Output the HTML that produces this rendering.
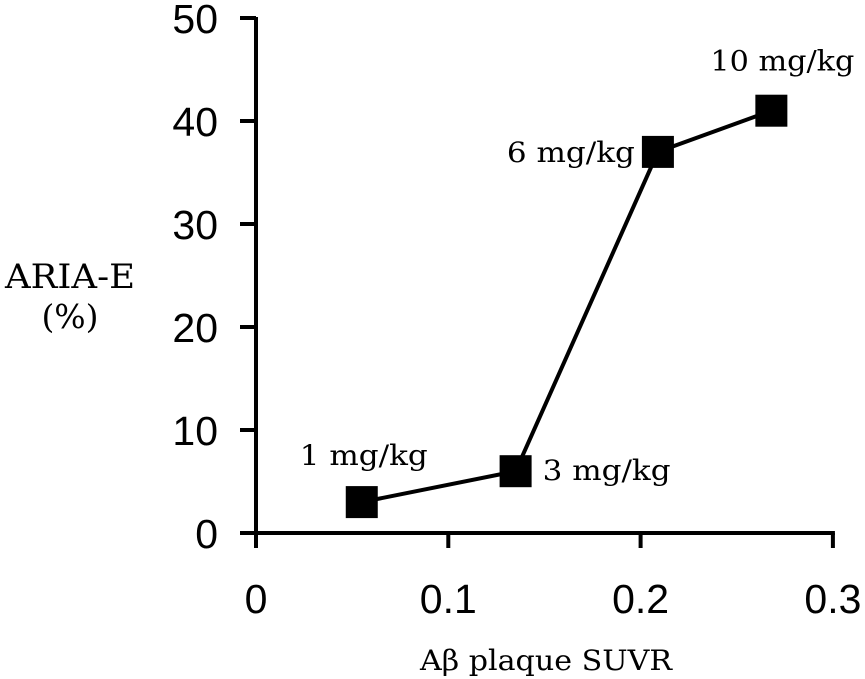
<!DOCTYPE html>
<html><head><style>
html,body{margin:0;padding:0;background:#fff;width:865px;height:679px;overflow:hidden}
</style></head><body>
<svg width="865" height="679" viewBox="0 0 865 679" xmlns="http://www.w3.org/2000/svg">
<g id="g"></g>
</svg>
<script>
const xTicks=[0,0.1,0.2,0.3];
const xTickLabels=["0","0.1","0.2","0.3"];
const yTicks=[0,10,20,30,40,50];
const yTickLabels=["0","10","20","30","40","50"];
const xVals=[0.055,0.135,0.209,0.268];
const yVals=[3,6,37,41];
const doseLabels=["1 mg/kg","3 mg/kg","6 mg/kg","10 mg/kg"];
const ns="http://www.w3.org/2000/svg";
const g=document.getElementById('g');
const X=v=>256+v*1923;
const Y=v=>533-v*10.3;
function mk(t,a){const e=document.createElementNS(ns,t);for(const k in a)e.setAttribute(k,a[k]);g.appendChild(e);return e;}
let e;
e=mk('line',{x1:256,y1:Y(50)-1,x2:256,y2:535,stroke:'#000','stroke-width':4});


e=mk('line',{x1:254,y1:533,x2:X(0.3)+2,y2:533,stroke:'#000','stroke-width':4});


yTicks.forEach((v,i)=>{
 e=mk('line',{x1:240,y1:Y(v),x2:256,y2:Y(v),stroke:'#000','stroke-width':4});
 
 
 e=mk('text',{x:218,y:Y(v)+15,'text-anchor':'end','font-family':'Liberation Sans, sans-serif','font-size':41});
 e.textContent=yTickLabels[i];
 
 
});
xTicks.forEach((v,i)=>{
 e=mk('line',{x1:X(v),y1:533,x2:X(v),y2:548,stroke:'#000','stroke-width':4});
 
 
 e=mk('text',{x:X(v),y:613,'text-anchor':'middle','font-family':'Liberation Sans, sans-serif','font-size':41});
 e.textContent=xTickLabels[i];
 
 
});
e=mk('polyline',{points:xVals.map((v,i)=>X(v)+','+Y(yVals[i])).join(' '),fill:'none',stroke:'#000','stroke-width':4});


const lblPos=[[-62,-37],[27,9],[-151,10],[-61,-40]];
xVals.forEach((v,i)=>{
 const cx=X(v),cy=Y(yVals[i]);
 e=mk('rect',{x:cx-16,y:cy-16,width:32,height:32,fill:'#000'});
 
 
 e=mk('text',{x:cx+lblPos[i][0],y:cy+lblPos[i][1],'font-family':'DejaVu Serif, serif','font-size':28,textLength:doseLabels[i].length>7?144:128,lengthAdjust:'spacingAndGlyphs'});
 e.textContent=doseLabels[i];
 
 
});
e=mk('text',{x:5,y:288,'font-family':'DejaVu Serif, serif','font-size':34,textLength:130,lengthAdjust:'spacingAndGlyphs'});
e.textContent='ARIA-E';


e=mk('text',{x:70,y:328,'text-anchor':'middle','font-family':'DejaVu Serif, serif','font-size':33});
e.textContent='(%)';


e=mk('text',{x:420,y:670,'font-family':'DejaVu Serif, serif','font-size':28,textLength:252,lengthAdjust:'spacingAndGlyphs'});
e.textContent='Aβ plaque SUVR';


</script>
</body></html>
